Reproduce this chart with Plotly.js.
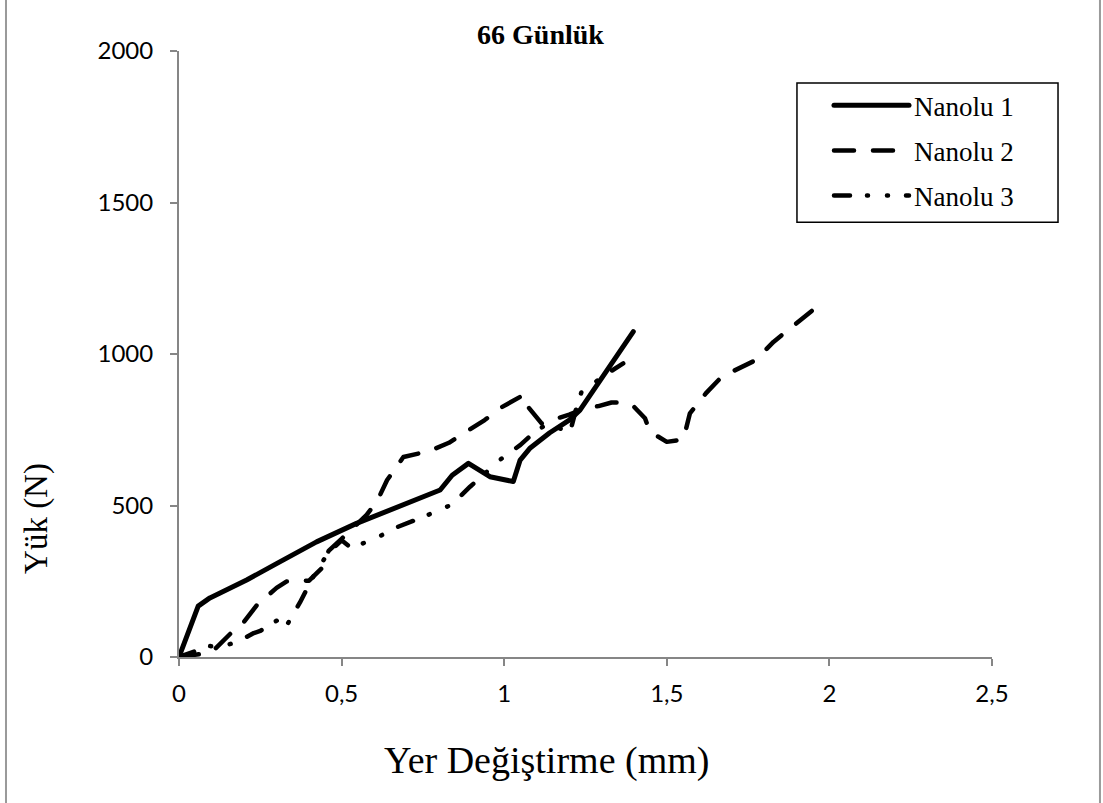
<!DOCTYPE html>
<html>
<head>
<meta charset="utf-8">
<script src="https://cdn.plot.ly/plotly-3.0.1.min.js"></script>
<style>
  html, body { margin: 0; padding: 0; background: #ffffff; }
  #chart { width: 1103px; height: 803px; }
  #chart path.js-line { stroke-linecap: round; stroke-linejoin: round; }
</style>
</head>
<body>
<div id="chart"></div>
<script>
// ---- data ----
const seriesNames = ['Nanolu 1', 'Nanolu 2', 'Nanolu 3'];

const x1 = [0, 0.059, 0.095, 0.208, 0.30, 0.423, 0.546, 0.70, 0.803, 0.84, 0.89, 0.956, 1.028, 1.049, 1.08, 1.14, 1.20, 1.233, 1.30, 1.397];
const y1 = [0, 168, 195, 254, 308, 380, 441, 505, 551, 600, 639, 595, 579, 650, 690, 740, 782, 815, 921, 1074];

const x2 = [0, 0.10, 0.16, 0.20, 0.24, 0.30, 0.33, 0.40, 0.44, 0.46, 0.50, 0.577, 0.61, 0.64, 0.69, 0.77, 0.83, 0.94, 0.99, 1.06, 1.07, 1.115, 1.20, 1.25, 1.29, 1.33, 1.37, 1.40, 1.433, 1.448, 1.50, 1.551, 1.571, 1.62, 1.669, 1.74, 1.774, 1.828, 1.87, 1.956, 1.958];
const y2 = [0, 15, 79, 116, 172, 228, 249, 252, 294, 350, 390, 469, 516, 584, 660, 680, 707, 782, 823, 865, 830, 771, 800, 822, 828, 840, 840, 825, 788, 744, 710, 718, 804, 870, 925, 963, 980, 1040, 1075, 1151, 1108];

const x3 = [0, 0.095, 0.126, 0.18, 0.23, 0.25, 0.287, 0.32, 0.33, 0.372, 0.42, 0.46, 0.50, 0.531, 0.618, 0.667, 0.753, 0.839, 0.895, 0.992, 1.05, 1.095, 1.136, 1.202, 1.223, 1.238, 1.325, 1.366];
const y3 = [0, 36, 33, 50, 79, 86, 114, 128, 102, 180, 280, 345, 385, 359, 399, 427, 463, 503, 562, 655, 700, 744, 771, 740, 826, 876, 941, 969];

const xTickVals = [0, 0.5, 1, 1.5, 2, 2.5];
const xTickText = ['0', '0,5', '1', '1,5', '2', '2,5'];
const yTickVals = [0, 500, 1000, 1500, 2000];
const yTickText = ['0', '500', '1000', '1500', '2000'];

const chartTitle = '66 Günlük';
const xTitle = 'Yer Değiştirme (mm)';
const yTitle = 'Yük (N)';

// ---- chart ----
const serif = 'Liberation Serif, Times New Roman, serif';
const sans = 'Lato, Open Sans, sans-serif';

const traces = [
  { x: x1, y: y1, name: seriesNames[0], legendgroup: 'a', mode: 'lines',
    line: { color: '#000000', width: 5, dash: 'solid' } },
  { x: x2, y: y2, name: seriesNames[1], legendgroup: 'b', mode: 'lines',
    line: { color: '#000000', width: 4.5, dash: '20px,19px' } },
  { x: x3, y: y3, name: seriesNames[2], legendgroup: 'c', mode: 'lines',
    line: { color: '#000000', width: 4.5, dash: '16px,17px,1px,19px,1px,18px' } }
];

const axisCommon = {
  showgrid: false, zeroline: false, showline: true,
  linecolor: '#868686', linewidth: 2,
  ticks: 'outside', ticklen: 7, tickwidth: 2, tickcolor: '#868686',
  tickfont: { family: sans, size: 24, color: '#000000' },
  fixedrange: true
};

const layout = {
  width: 1103, height: 803,
  paper_bgcolor: '#ffffff', plot_bgcolor: '#ffffff',
  margin: { l: 179, r: 111, t: 51, b: 146 },
  showlegend: true,
  title: {
    text: '<b>' + chartTitle + '</b>',
    font: { family: serif, size: 28, color: '#000000' },
    x: 0.49, xanchor: 'center', y: 0.958, yanchor: 'middle'
  },
  xaxis: Object.assign({}, axisCommon, {
    range: [0, 2.5], tickvals: xTickVals, ticktext: xTickText,
    ticklabelstandoff: 7
  }),
  yaxis: Object.assign({}, axisCommon, {
    range: [0, 2000], tickvals: yTickVals, ticktext: yTickText,
    ticklabelstandoff: 12
  }),
  legend: {
    x: 0.7995, y: 0.950, xanchor: 'left', yanchor: 'top',
    bgcolor: 'rgba(0,0,0,0)', bordercolor: 'rgba(0,0,0,0)', borderwidth: 0,
    font: { family: serif, size: 27, color: '#000000' },
    traceorder: 'grouped', tracegroupgap: 7,
    itemwidth: 75
  },
  annotations: [
    { text: xTitle, xref: 'paper', yref: 'paper', x: 0.4526, y: -0.170,
      xanchor: 'center', yanchor: 'middle', showarrow: false,
      font: { family: serif, size: 38, color: '#000000' } },
    { text: yTitle, xref: 'paper', yref: 'paper', x: -0.1747, y: 0.2294,
      xanchor: 'center', yanchor: 'middle', showarrow: false, textangle: -90,
      font: { family: serif, size: 33, color: '#000000' } }
  ],
  shapes: [
    { type: 'line', xref: 'paper', yref: 'paper', x0: -0.2128, x1: -0.2128, y0: -0.241, y1: 1.084,
      line: { color: '#9a9a9a', width: 2 } },
    { type: 'line', xref: 'paper', yref: 'paper', x0: 1.1328, x1: 1.1328, y0: -0.241, y1: 1.084,
      line: { color: '#9a9a9a', width: 2 } },
    // legend box (px 797..1058, 83..222)
    { type: 'rect', xref: 'paper', yref: 'paper', layer: 'above',
      x0: 0.7601, x1: 1.0812, y0: 0.7173, y1: 0.9472,
      fillcolor: '#ffffff', line: { color: '#000000', width: 1.5 } }
  ]
};

Plotly.newPlot('chart', traces, layout, { displayModeBar: false, staticPlot: true });
</script>
</body>
</html>
